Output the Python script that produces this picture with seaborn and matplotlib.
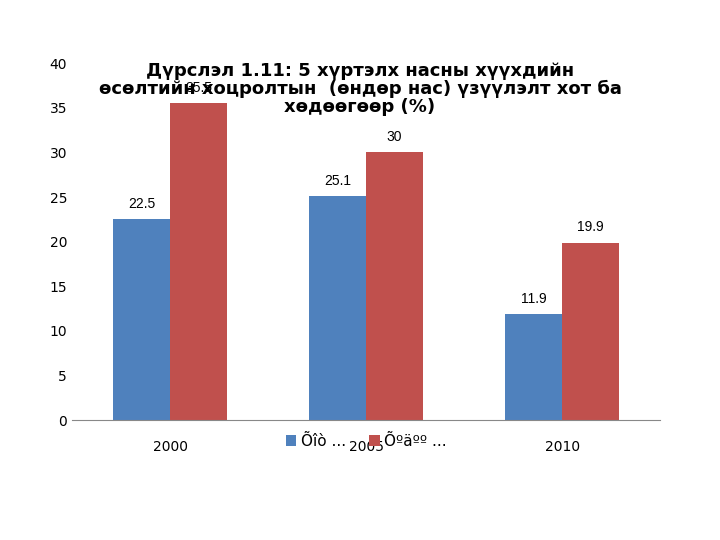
import matplotlib
matplotlib.use("Agg")
import matplotlib.pyplot as plt
import seaborn as sns
import pandas as pd

years = ["2000", "2005", "2010"]
series = ["Õîò ...", "Õºäºº ..."]
city = [22.5, 25.1, 11.9]
rural = [35.5, 30, 19.9]

df = pd.DataFrame({"year": years * 2,
                   "series": [series[0]] * 3 + [series[1]] * 3,
                   "value": city + rural})

fig = plt.figure(figsize=(7.2, 5.4), dpi=100)
ax = fig.add_axes([0.1, 0.222, 0.817, 0.661])
sns.barplot(data=df, x="year", y="value", hue="series", hue_order=series,
            palette=["#4f81bd", "#c0504d"], saturation=1, width=0.58, ax=ax, legend=True)
for c in ax.containers:
    ax.bar_label(c, fmt="%g", padding=6, fontsize=10, family="Liberation Sans")
ax.set_ylim(0, 40)
ax.set_yticks(range(0, 41, 5))
ax.set_xlabel("")
ax.set_ylabel("")
for s in ["top", "right", "left"]:
    ax.spines[s].set_visible(False)
ax.spines["bottom"].set_color("#888888")
ax.tick_params(axis="y", length=0, labelsize=10)
ax.tick_params(axis="x", length=0, labelsize=10, pad=14)
ax.legend(loc="upper center", bbox_to_anchor=(0.5, 0.0), ncol=2, frameon=False,
          fontsize=11, handlelength=0.7, handleheight=0.7, columnspacing=1.5, handletextpad=0.3)
fig.text(0.5, 0.835, "Дүрслэл 1.11: 5 хүртэлх насны хүүхдийн\nөсөлтийн хоцролтын  (өндөр нас) үзүүлэлт хот ба\nхөдөөгөөр (%)",
         ha="center", va="center", fontsize=13, fontweight="semibold", linespacing=1.0)
fig.savefig("out.png")
